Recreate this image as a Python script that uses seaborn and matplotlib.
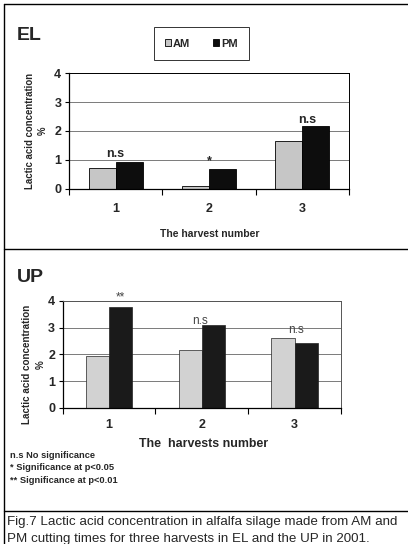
import pandas as pd
import matplotlib.pyplot as plt
import seaborn as sns
from matplotlib.lines import Line2D
from matplotlib.patches import Patch

# values
harvests = ['1', '2', '3']
el_am = [0.71, 0.10, 1.67]
el_pm = [0.92, 0.68, 2.18]
up_am = [1.94, 2.17, 2.62]
up_pm = [3.77, 3.10, 2.42]
el_signif = ['n.s', '*', 'n.s']
up_signif = ['**', 'n.s', 'n.s']
yticks = [0, 1, 2, 3, 4]


def long_df(am, pm):
    return pd.DataFrame({'harvest': harvests * 2,
                         'value': am + pm,
                         'time': ['AM'] * 3 + ['PM'] * 3})


sns.set_style('white')
plt.rcParams['font.family'] = ['Liberation Sans', 'DejaVu Sans']

fig = plt.figure(figsize=(4.08, 5.44), dpi=100)
ax_el = fig.add_axes([0.169, 0.6526, 0.686, 0.2132])
ax_up = fig.add_axes([0.1537, 0.25, 0.682, 0.1967])

pal_el = {'AM': '#c6c6c6', 'PM': '#0d0d0d'}
pal_up = {'AM': '#d2d2d2', 'PM': '#1a1a1a'}

sns.barplot(data=long_df(el_am, el_pm), x='harvest', y='value', hue='time',
            palette=pal_el, width=0.58, edgecolor='black', linewidth=0.6,
            ax=ax_el, legend=False)
sns.barplot(data=long_df(up_am, up_pm), x='harvest', y='value', hue='time',
            palette=pal_up, width=0.5, edgecolor='#222222', linewidth=0.5,
            ax=ax_up, legend=False)

for ax, spine_col in [(ax_el, 'black'), (ax_up, '#555555')]:
    ax.set_ylim(0, 4)
    ax.set_xlim(-0.5, 2.5)
    ax.set_yticks(yticks)
    ax.set_axisbelow(True)
    ax.yaxis.grid(True, color='#7a7a7a', lw=0.7)
    for s in ['top', 'right']:
        ax.spines[s].set_color(spine_col)
        ax.spines[s].set_linewidth(0.7)
    for s in ['left', 'bottom']:
        ax.spines[s].set_color('black')
        ax.spines[s].set_linewidth(0.9)
    ax.set_xticks([-0.5, 0.5, 1.5, 2.5], minor=True)
    ax.tick_params(axis='x', which='minor', length=4, width=0.8, direction='out', color='black', bottom=True)
    ax.tick_params(axis='x', which='major', length=0, labelsize=9)
    ax.tick_params(axis='y', length=3, width=0.8, direction='out', color='black', left=True, labelsize=9, pad=2.5)
    for lab in ax.get_xticklabels() + ax.get_yticklabels():
        lab.set_fontweight('bold')

ax_el.tick_params(axis='x', which='major', pad=10)
ax_up.tick_params(axis='x', which='major', pad=8)

ax_el.set_ylabel('Lactic acid concentration\n%', fontsize=6.9, fontweight='bold', linespacing=1.45)
ax_el.yaxis.set_label_coords(-0.074, 0.5)
ax_up.set_ylabel('Lactic acid concentration\n%', fontsize=7.1, fontweight='bold', linespacing=1.4)
ax_up.yaxis.set_label_coords(-0.062, 0.41)

ax_el.set_xlabel('The harvest number', fontsize=7.5, fontweight='bold', va='top')
ax_el.xaxis.set_label_coords(0.504, -0.345)
ax_up.set_xlabel('The  harvests number', fontsize=8.9, fontweight='bold', va='top')
ax_up.xaxis.set_label_coords(0.505, -0.285)

# significance marks
el_pos = [(0.0, 1.2), (0.0, 0.95), (0.05, 2.38)]
for i, (txt, (dx, y)) in enumerate(zip(el_signif, el_pos)):
    ax_el.text(i + dx, y, txt, ha='center', va='center', fontsize=9, fontweight='bold')
up_pos = [(0.125, 4.15), (-0.02, 3.26), (0.02, 2.92)]
for i, (txt, (dx, y)) in enumerate(zip(up_signif, up_pos)):
    ax_up.text(i + dx, y, txt, ha='center', va='center', fontsize=8.5,
               color='#444444', clip_on=False)

# legend for the top panel
handles = [Patch(facecolor=pal_el['AM'], edgecolor='black', lw=0.6, label='AM'),
           Patch(facecolor=pal_el['PM'], edgecolor='black', lw=0.6, label='PM')]
leg = fig.legend(handles=handles, loc='center', bbox_to_anchor=(0.493, 0.92), ncol=2,
                 frameon=True, fancybox=False, edgecolor='black', handlelength=0.6,
                 handleheight=0.6, handletextpad=0.15, columnspacing=2.0,
                 prop={'size': 8, 'weight': 'bold'}, borderpad=1.0, borderaxespad=0)
leg.get_frame().set_linewidth(0.7)

fig.text(0.042, 0.934, 'EL', fontsize=14, fontweight='bold', va='center')
fig.text(0.042, 0.4908, 'UP', fontsize=14, fontweight='bold', va='center')

notes = ['n.s No significance', '* Significance at p<0.05', '** Significance at p<0.01']
for txt, y in zip(notes, [0.1635, 0.1415, 0.1175]):
    fig.text(0.0245, y, txt, fontsize=6.7, fontweight='bold', va='center')

fig.text(0.017, 0.0404, 'Fig.7 Lactic acid concentration in alfalfa silage made from AM and',
         fontsize=9.6, va='center')
fig.text(0.017, 0.0092, 'PM cutting times for three harvests in EL and the UP in 2001.',
         fontsize=9.6, va='center')

# panel frame lines
for ln in [Line2D([0.0098, 0.0098], [0, 0.9926]),
           Line2D([0.0098, 1.0], [0.9926, 0.9926]),
           Line2D([0.0098, 1.0], [0.5423, 0.5423]),
           Line2D([0.0098, 1.0], [0.0607, 0.0607])]:
    ln.set_color('black')
    ln.set_linewidth(1.0)
    fig.add_artist(ln)

fig.savefig('out.png', dpi=100)
